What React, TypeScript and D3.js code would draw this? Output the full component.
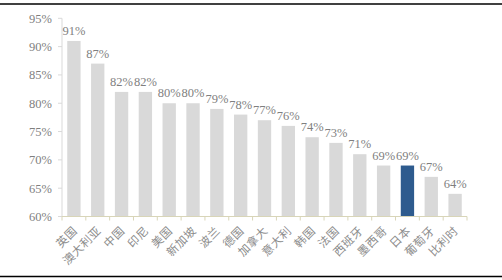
import React from "react";
import * as d3 from "d3";

const categories = ["英国", "澳大利亚", "中国", "印尼", "美国", "新加坡", "波兰", "德国", "加拿大", "意大利", "韩国", "法国", "西班牙", "墨西哥", "日本", "葡萄牙", "比利时"];
const values = [91, 87, 82, 82, 80, 80, 79, 78, 77, 76, 74, 73, 71, 69, 69, 67, 64];
const highlight = "日本";
const yTicks = [60, 65, 70, 75, 80, 85, 90, 95];

const W = 502, H = 280;
const left = 62, right = 467, top = 18.3, bottom = 216.5;

export default function App() {
  const x = d3.scaleBand<string>().domain(categories).range([left, right]).paddingInner(0.44).paddingOuter(0.22);
  const y = d3.scaleLinear().domain([60, 95]).range([bottom, top]);
  const bounds = categories.map((c) => x(c)! - (x.step() * x.paddingInner()) / 2);
  bounds.push(right);
  const serif = "'Liberation Serif', 'Times New Roman', serif";
  return (
    <svg width={W} height={H} style={{ position: "absolute", left: 0, top: 0, background: "#fff" }}>
      <line x1={0} x2={W} y1={4} y2={4} stroke="#000" strokeWidth={1.5} />
      <line x1={0} x2={W} y1={276.5} y2={276.5} stroke="#000" strokeWidth={1.5} />
      {/* y axis */}
      <line x1={left} x2={left} y1={top} y2={bottom} stroke="#d9d9d9" strokeWidth={1} />
      {yTicks.map((t) => (
        <g key={t}>
          <line x1={left - 4} x2={left} y1={y(t)} y2={y(t)} stroke="#d9d9d9" />
          <text x={52} y={y(t)} dy="0.35em" textAnchor="end" fontFamily={serif} fontSize={12.5} fill="#7f7f7f">
            {t}%
          </text>
        </g>
      ))}
      {categories.map((c, i) => (
        <rect key={c} x={x(c)} width={x.bandwidth()} y={y(values[i])} height={y(60) - y(values[i])}
          fill={c === highlight ? "#2e5b8e" : "#d9d9d9"} />
      ))}
      {/* x axis */}
      <line x1={left} x2={right} y1={bottom} y2={bottom} stroke="#d8d5b8" strokeWidth={1} />
      {bounds.map((b, i) => (
        <line key={i} x1={b} x2={b} y1={bottom} y2={bottom + 4} stroke="#d8d5b8" />
      ))}
      {categories.map((c, i) => (
        <text key={c} x={x(c)! + x.bandwidth() / 2} y={y(values[i]) - 6} textAnchor="middle"
          fontFamily={serif} fontSize={12.5} fill="#7f7f7f">
          {values[i]}%
        </text>
      ))}
      {categories.map((c) => {
        const cx = x(c)! + x.bandwidth() / 2 + 4;
        const cy = bottom + 15;
        return (
          <text key={c} transform={`translate(${cx},${cy}) rotate(-45)`} textAnchor="end"
            fontFamily="'Noto Sans CJK SC', sans-serif" fontSize={11.5} fill="#8c8c8c" letterSpacing={0.5}>
            {c}
          </text>
        );
      })}
    </svg>
  );
}
